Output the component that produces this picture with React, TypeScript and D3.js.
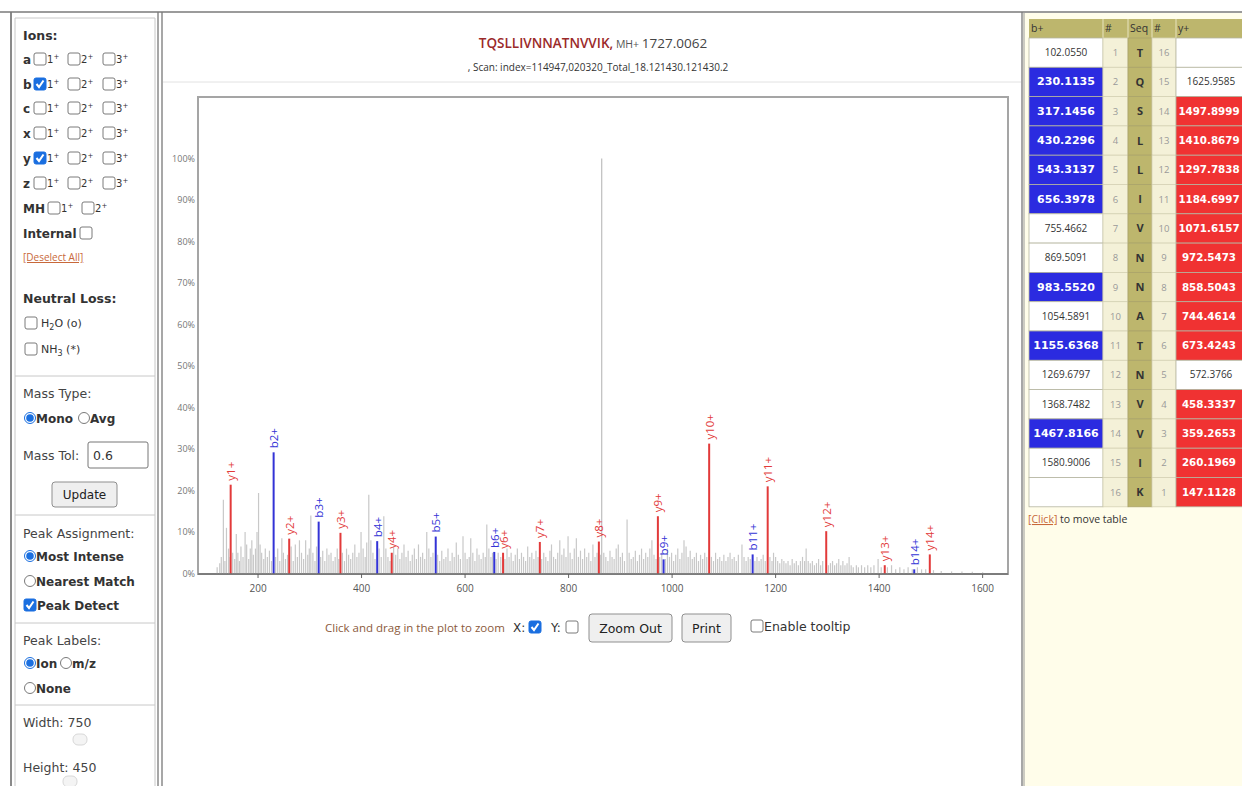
import React from "react";
import * as d3 from "d3";

// ---------- DATA ----------
const peptide = "TQSLLIVNNATNVVIK";
const precursorMH = "1727.0062";
const scanText = ", Scan: index=114947,020320_Total_18.121430.121430.2";

const xTicks = [200, 400, 600, 800, 1000, 1200, 1400, 1600];
const yTicks = [0, 10, 20, 30, 40, 50, 60, 70, 80, 90, 100];

// matched b ions
const bLabels = ["b2+", "b3+", "b4+", "b5+", "b6+", "b9+", "b11+", "b14+"];
const bMz = [230.1135, 317.1456, 430.2296, 543.3137, 656.3978, 983.552, 1155.6368, 1467.8166];
const bInt = [29.2, 12.5, 7.8, 8.9, 5.2, 3.4, 4.6, 1.0];

// matched y ions
const yLabels = ["y1+", "y2+", "y3+", "y4+", "y6+", "y7+", "y8+", "y9+", "y10+", "y11+", "y12+", "y13+", "y14+"];
const yMz = [147.1128, 260.1969, 359.2653, 458.3337, 673.4243, 744.4614, 858.5043, 972.5473, 1071.6157, 1184.6997, 1297.7838, 1410.8679, 1497.8999];
const yInt = [21.4, 8.4, 9.8, 5.0, 5.0, 7.6, 7.7, 13.8, 31.3, 21.0, 10.2, 2.0, 4.6];

// precursor (base) peak
const precursorPeak: [number, number] = [864.0, 100];

// unassigned peaks [m/z, %]
const noisePeaks: [number, number][] = [
  [121, 1.5], [126, 2.5], [129, 4], [133, 17.8], [136, 3], [139, 11], [143, 6], [146, 4], [151, 5], [155, 3.5],
  [158, 9.5], [161, 5], [164, 3], [167, 6.5], [171, 4], [175, 10], [178, 7], [182, 3.5], [185, 6], [188, 8],
  [191, 4.5], [195, 6], [198, 10], [201, 19.4], [204, 7], [207, 5], [211, 3.5], [214, 6], [218, 4], [222, 5.5],
  [226, 3], [234, 4], [238, 6], [242, 3], [246, 8.5], [249, 5], [253, 3.5], [257, 4.5], [264, 6.5], [268, 3],
  [272, 7], [276, 4], [280, 8], [284, 5], [288, 3.5], [292, 8], [296, 4.5], [299, 6], [302, 14], [306, 5],
  [310, 3], [313, 6.5], [321, 4], [325, 5.5], [329, 3], [333, 6], [337, 4.5], [341, 5], [345, 3], [349, 4],
  [353, 6], [356, 3.5], [363, 5], [367, 3], [371, 6], [375, 4.5], [379, 3.5], [383, 5], [387, 7], [391, 4],
  [395, 5], [399, 10], [403, 6], [407, 4], [410, 7.5], [414, 19], [418, 8], [422, 5], [426, 3.5], [434, 6],
  [438, 4], [443, 13.8], [447, 6], [451, 4], [455, 3], [462, 6.5], [466, 4.5], [470, 6], [474, 3.5], [478, 5],
  [482, 7], [486, 4], [490, 5.5], [494, 3], [498, 4.5], [502, 6], [506, 3.5], [510, 7], [514, 4], [518, 5],
  [522, 3.5], [526, 10], [530, 6], [534, 4], [538, 5], [547, 4.5], [551, 3], [555, 5.5], [559, 3.5], [563, 4],
  [567, 6], [571, 3], [575, 5], [579, 4], [583, 7.5], [587, 4.5], [591, 3.5], [596, 9], [600, 5], [604, 3.5],
  [608, 4], [611, 8.5], [615, 5], [619, 3], [623, 6], [627, 4.5], [631, 3.5], [635, 5], [639, 4], [642, 11.8],
  [646, 6], [650, 4], [653, 5], [660, 3.5], [664, 5], [669, 4], [677, 3.5], [681, 6], [685, 4], [689, 5],
  [693, 3], [697, 4.5], [701, 6], [705, 3.5], [709, 5], [713, 4], [717, 3], [721, 6.5], [725, 4], [729, 5],
  [733, 3.5], [737, 5.5], [741, 4], [748, 3.5], [752, 5], [756, 4], [760, 3], [764, 5.5], [767, 7], [771, 4],
  [775, 3.5], [779, 5], [783, 8], [787, 4.5], [791, 6], [795, 4], [799, 9], [803, 5], [807, 3.5], [811, 6],
  [815, 8.5], [819, 4], [823, 5.5], [827, 3.5], [831, 6], [835, 4], [839, 5], [843, 3], [847, 7], [851, 4],
  [855, 5], [862, 4.5], [868, 5], [872, 4], [876, 3], [880, 5.5], [884, 4], [888, 3.5], [892, 6], [896, 7],
  [900, 4], [904, 5], [908, 3], [913, 13], [917, 5], [921, 3.5], [925, 4], [929, 5.5], [933, 3], [937, 4.5],
  [941, 6], [945, 3.5], [949, 5], [953, 4], [957, 6], [961, 8], [965, 4.5], [969, 3.5], [976, 4], [980, 5],
  [987, 3.5], [991, 6], [995, 4], [999, 5], [1003, 3], [1007, 4.5], [1011, 6], [1015, 3.5], [1019, 5], [1023, 8],
  [1027, 6.5], [1031, 4], [1035, 5.5], [1039, 3.5], [1043, 4], [1047, 5], [1051, 3], [1055, 4.5], [1059, 3.5], [1063, 5],
  [1067, 4], [1076, 4], [1080, 3], [1084, 5], [1088, 3.5], [1092, 4], [1096, 3], [1100, 4.5], [1104, 3], [1108, 4],
  [1112, 5], [1116, 3.5], [1120, 4], [1124, 3], [1128, 4.5], [1135, 7], [1139, 4], [1143, 3], [1147, 4], [1151, 3.5],
  [1160, 3], [1164, 4], [1168, 3], [1172, 3.5], [1176, 4.5], [1180, 3], [1189, 4], [1193, 3], [1196, 5], [1200, 4],
  [1204, 3], [1208, 2.5], [1212, 3.5], [1216, 3], [1220, 2.5], [1224, 3], [1228, 2], [1232, 3.5], [1236, 2.5], [1240, 3],
  [1244, 2], [1248, 3], [1252, 4], [1256, 3], [1259, 6], [1263, 3], [1267, 2.5], [1271, 3], [1275, 2], [1279, 2.5],
  [1283, 3.5], [1287, 2], [1291, 3], [1302, 2], [1306, 2.5], [1310, 3], [1314, 2], [1318, 2.5], [1322, 3.5], [1326, 2],
  [1330, 3], [1334, 2], [1338, 2.5], [1342, 4], [1346, 2], [1350, 1.5], [1356, 2], [1360, 1.5], [1366, 2], [1372, 1.5],
  [1378, 2], [1384, 1.5], [1390, 2], [1398, 3.5], [1404, 1.5], [1416, 1.5], [1424, 2], [1432, 1], [1440, 1.5], [1448, 1],
  [1456, 1.5], [1464, 1], [1474, 1.5], [1482, 1], [1490, 1], [1505, 0.8], [1520, 0.6], [1540, 0.5], [1560, 0.5], [1580, 0.4],
  [1600, 0.3],
];

// fragment table
const bTable = ["102.0550", "230.1135", "317.1456", "430.2296", "543.3137", "656.3978", "755.4662", "869.5091", "983.5520", "1054.5891", "1155.6368", "1269.6797", "1368.7482", "1467.8166", "1580.9006", ""];
const yTable = ["", "1625.9585", "1497.8999", "1410.8679", "1297.7838", "1184.6997", "1071.6157", "972.5473", "858.5043", "744.4614", "673.4243", "572.3766", "458.3337", "359.2653", "260.1969", "147.1128"];
const bMatchedRows = [2, 3, 4, 5, 6, 9, 11, 14];
const yMatchedFromN = [14, 13, 12, 11, 10, 9, 8, 7, 6, 4, 3, 2, 1];

// ---------- STYLE ----------
const RED = "#e23a3a";
const BLUE = "#3333d6";
const GRAY = "#c8c8c8";
const PANEL_FONT = "'DejaVu Sans', Verdana, sans-serif";
const SMALL_FONT = "'Open Sans', 'DejaVu Sans', sans-serif";

const x = d3.scaleLinear().domain([84, 1649]).range([198, 1008]);
const y = d3.scaleLinear().domain([0, 100]).range([573.5, 158.5]);

function CheckBox({ x0, cy, checked = false, s = 12 }: { x0: number; cy: number; checked?: boolean; s?: number }) {
  return (
    <g>
      <rect x={x0} y={cy - s / 2} width={s} height={s} rx={2} fill={checked ? "#1a6fe0" : "#fff"} stroke={checked ? "#1a6fe0" : "#7a7a7a"} strokeWidth={1} />
      {checked && (
        <path d={`M${x0 + 2.5},${cy} L${x0 + 5},${cy + 3} L${x0 + 9.5},${cy - 3.5}`} fill="none" stroke="#fff" strokeWidth={2} />
      )}
    </g>
  );
}

function Radio({ cx, cy, checked = false }: { cx: number; cy: number; checked?: boolean }) {
  return (
    <g>
      <circle cx={cx} cy={cy} r={5.5} fill="#fff" stroke={checked ? "#1a6fe0" : "#7a7a7a"} strokeWidth={1} />
      {checked && <circle cx={cx} cy={cy} r={3.8} fill="#1a6fe0" />}
    </g>
  );
}

function Charge({ x0, cy, n }: { x0: number; cy: number; n: number }) {
  return (
    <text x={x0} y={cy + 4} fontSize={10} fill="#333" fontFamily={PANEL_FONT}>
      {n}
      <tspan fontSize={7} dy={-4}>+</tspan>
    </text>
  );
}

function Button({ x0, y0, w, h, label, fs = 12 }: { x0: number; y0: number; w: number; h: number; label: string; fs?: number }) {
  return (
    <g>
      <rect x={x0} y={y0} width={w} height={h} rx={3} fill="#efefef" stroke="#8f8f8f" />
      <text x={x0 + w / 2} y={y0 + h / 2 + 4.5} textAnchor="middle" fontSize={fs} fill="#222" fontFamily={PANEL_FONT}>{label}</text>
    </g>
  );
}

function LeftPanel() {
  const ionRows = ["a", "b", "c", "x", "y", "z"];
  const rowY = [59, 84, 108, 133, 158, 183];
  const checkedRows = ["b", "y"];
  const T = (props: any) => <text fontFamily={PANEL_FONT} fill="#333" fontSize={12.5} {...props} />;
  return (
    <g>
      <line x1={11} y1={12} x2={11} y2={786} stroke="#8a8a8a" strokeWidth={2} />
      <line x1={15} y1={18} x2={15} y2={786} stroke="#c8c8c8" />
      <line x1={155} y1={18} x2={155} y2={786} stroke="#c8c8c8" />
      <line x1={158} y1={12} x2={158} y2={786} stroke="#8a8a8a" strokeWidth={1.5} />
      <line x1={15} y1={18} x2={155} y2={18} stroke="#c8c8c8" />
      <T x={23} y={40} fontWeight="bold" fontSize={12.5}>Ions:</T>
      {ionRows.map((r, i) => (
        <g key={r}>
          <T x={23} y={rowY[i] + 4.5} fontWeight="bold" fontSize={12}>{r}</T>
          <CheckBox x0={34} cy={rowY[i]} checked={checkedRows.includes(r)} />
          <Charge x0={47} cy={rowY[i]} n={1} />
          <CheckBox x0={68} cy={rowY[i]} />
          <Charge x0={81} cy={rowY[i]} n={2} />
          <CheckBox x0={103} cy={rowY[i]} />
          <Charge x0={116} cy={rowY[i]} n={3} />
        </g>
      ))}
      <T x={23} y={212.5} fontWeight="bold" fontSize={12}>MH</T>
      <CheckBox x0={48} cy={208} />
      <Charge x0={61} cy={208} n={1} />
      <CheckBox x0={82} cy={208} />
      <Charge x0={95} cy={208} n={2} />
      <T x={23} y={237.5} fontWeight="bold" fontSize={12}>Internal</T>
      <CheckBox x0={80} cy={233} />
      <text x={23} y={261} fontSize={10} fill="#c8683a" textDecoration="underline" fontFamily={SMALL_FONT}>[Deselect All]</text>

      <T x={23} y={302.5} fontWeight="bold">Neutral Loss:</T>
      <CheckBox x0={25} cy={323} />
      <text x={41} y={327} fontSize={11} fill="#333" fontFamily={PANEL_FONT}>H<tspan fontSize={8} dy={3}>2</tspan><tspan dy={-3}>O (o)</tspan></text>
      <CheckBox x0={25} cy={349} />
      <text x={41} y={353} fontSize={11} fill="#333" fontFamily={PANEL_FONT}>NH<tspan fontSize={8} dy={3}>3</tspan><tspan dy={-3}> (*)</tspan></text>

      <line x1={15} y1={376} x2={155} y2={376} stroke="#c8c8c8" />
      <T x={23} y={397.5} fill="#444">Mass Type:</T>
      <Radio cx={30} cy={418} checked />
      <T x={36} y={422.5} fontWeight="bold" fontSize={12}>Mono</T>
      <Radio cx={84} cy={418} />
      <T x={90} y={422.5} fontWeight="bold" fontSize={12}>Avg</T>
      <T x={23} y={459.5} fill="#444">Mass Tol:</T>
      <rect x={88} y={442} width={60} height={26} fill="#fff" stroke="#777" rx={2} />
      <T x={93} y={459.5} fontSize={12.5}>0.6</T>
      <Button x0={52} y0={482} w={65} h={25} label="Update" />

      <line x1={15} y1={515} x2={155} y2={515} stroke="#c8c8c8" />
      <T x={23} y={537.5} fill="#444">Peak Assignment:</T>
      <Radio cx={30} cy={556} checked />
      <T x={36} y={560.5} fontWeight="bold" fontSize={12}>Most Intense</T>
      <Radio cx={30} cy={581} />
      <T x={36} y={585.5} fontWeight="bold" fontSize={12}>Nearest Match</T>
      <CheckBox x0={24} cy={605} checked />
      <T x={37} y={609.5} fontWeight="bold" fontSize={12}>Peak Detect</T>

      <line x1={15} y1={623} x2={155} y2={623} stroke="#c8c8c8" />
      <T x={23} y={644.5} fill="#444">Peak Labels:</T>
      <Radio cx={30} cy={663} checked />
      <T x={36} y={667.5} fontWeight="bold" fontSize={12}>Ion</T>
      <Radio cx={66} cy={663} />
      <T x={72} y={667.5} fontWeight="bold" fontSize={12}>m/z</T>
      <Radio cx={30} cy={688} />
      <T x={36} y={692.5} fontWeight="bold" fontSize={12}>None</T>

      <line x1={15} y1={705} x2={155} y2={705} stroke="#c8c8c8" />
      <T x={23} y={727} fill="#444">Width: 750</T>
      <rect x={73} y={734} width={14} height={11} rx={5} fill="#f4f4f4" stroke="#d8d8d8" />
      <T x={23} y={772} fill="#444">Height: 450</T>
      <rect x={63} y={776} width={14} height={11} rx={5} fill="#f4f4f4" stroke="#d8d8d8" />
    </g>
  );
}

function Spectrum() {
  const labelFs = 11.5;
  return (
    <g>
      <line x1={162} y1={12} x2={162} y2={786} stroke="#8a8a8a" strokeWidth={1.5} />
      <line x1={1022} y1={12} x2={1022} y2={786} stroke="#8a8a8a" strokeWidth={1.5} />
      <line x1={0} y1={12} x2={1242} y2={12} stroke="#7a7a7a" strokeWidth={1.5} />
      <text x={593} y={48} textAnchor="middle" fontFamily={SMALL_FONT} fontSize={13.5}>
        <tspan fill="#9b2a2a" fontWeight="600">{peptide},</tspan>
        <tspan fill="#555" fontSize={10.5}> MH+ </tspan>
        <tspan fill="#444">{precursorMH}</tspan>
      </text>
      <text x={598} y={71} textAnchor="middle" fontFamily={SMALL_FONT} fontSize={10} fill="#333">{scanText}</text>
      <line x1={163} y1={82} x2={1021} y2={82} stroke="#e2e2e2" />

      <rect x={198} y={97} width={810} height={477} fill="#fff" stroke="#a5a5a5" strokeWidth={2} />

      {yTicks.map((t) => (
        <text key={t} x={195} y={y(t) + 3} textAnchor="end" fontSize={9} fill="#777" fontFamily={SMALL_FONT}>{t}%</text>
      ))}
      {xTicks.map((t) => (
        <g key={t}>
          <line x1={x(t)} x2={x(t)} y1={574} y2={578} stroke="#666" />
          <text x={x(t)} y={592} textAnchor="middle" fontSize={10} fill="#555" fontFamily={SMALL_FONT}>{t}</text>
        </g>
      ))}

      {noisePeaks.map(([m, v], i) => (
        <line key={"n" + i} x1={x(m)} x2={x(m)} y1={y(0)} y2={y(v)} stroke={GRAY} strokeWidth={1.2} />
      ))}
      <line x1={x(precursorPeak[0])} x2={x(precursorPeak[0])} y1={y(0)} y2={y(precursorPeak[1])} stroke="#bdbdbd" strokeWidth={1.2} />

      {bMz.map((m, i) => (
        <g key={"b" + i}>
          <line x1={x(m)} x2={x(m)} y1={y(0)} y2={y(bInt[i])} stroke={BLUE} strokeWidth={2} />
          <text transform={`translate(${x(m)},${y(bInt[i]) - 4}) rotate(-90)`} fontSize={labelFs} fill={BLUE} dominantBaseline="central" fontFamily={SMALL_FONT}>{bLabels[i]}</text>
        </g>
      ))}
      {yMz.map((m, i) => (
        <g key={"y" + i}>
          <line x1={x(m)} x2={x(m)} y1={y(0)} y2={y(yInt[i])} stroke={RED} strokeWidth={2} />
          <text transform={`translate(${x(m)},${y(yInt[i]) - 4}) rotate(-90)`} fontSize={labelFs} fill={RED} dominantBaseline="central" fontFamily={SMALL_FONT}>{yLabels[i]}</text>
        </g>
      ))}
      <line x1={198} x2={1008} y1={574} y2={574} stroke="#555" strokeWidth={1} />

      <text x={325} y={632} fontSize={11.5} fill="#8b5a3c" fontFamily={SMALL_FONT}>Click and drag in the plot to zoom</text>
      <text x={513} y={632} fontSize={12} fill="#333" fontFamily={PANEL_FONT}>X:</text>
      <CheckBox x0={529} cy={627} checked />
      <text x={551} y={632} fontSize={12} fill="#333" fontFamily={PANEL_FONT}>Y:</text>
      <CheckBox x0={566} cy={627} />
      <Button x0={589} y0={614} w={83} h={28} label="Zoom Out" fs={12.5} />
      <Button x0={682} y0={614} w={49} h={28} label="Print" fs={12.5} />
      <CheckBox x0={751} cy={626} />
      <text x={764} y={631} fontSize={12.5} fill="#333" fontFamily={PANEL_FONT}>Enable tooltip</text>
    </g>
  );
}

function FragmentTable() {
  const cols = [1029, 1103, 1128, 1152, 1176, 1252];
  const top = 19;
  const headH = 19;
  const rowH = 29.3;
  const residues = peptide.split("");
  const n = residues.length;
  const tf = SMALL_FONT;
  return (
    <g>
      <rect x={1023} y={13} width={219} height={773} fill="#fffdea" />
      <line x1={1024} y1={12} x2={1024} y2={786} stroke="#9a9a9a" />
      <rect x={cols[0]} y={top} width={cols[5] - cols[0]} height={headH} fill="#bdb66d" />
      {[["b+", 0], ["#", 1], ["Seq", 2], ["#", 3], ["y+", 4]].map(([t, c]) => (
        <text key={String(t) + c} x={cols[c as number] + 2} y={top + 13} fontSize={10.5} fill="#333" fontFamily={tf}>{t}</text>
      ))}
      {cols.slice(1, 5).map((c) => (
        <line key={c} x1={c} x2={c} y1={top} y2={top + headH} stroke="#e8e4c0" />
      ))}
      {residues.map((r, i) => {
        const rowTop = top + headH + i * rowH;
        const cy = rowTop + rowH / 2;
        const num = i + 1;
        const bM = bMatchedRows.includes(num);
        const yNum = n - i;
        const yM = yMatchedFromN.includes(yNum);
        return (
          <g key={i}>
            <rect x={cols[0]} y={rowTop} width={cols[1] - cols[0]} height={rowH} fill={bM ? "#2b2be0" : "#fff"} stroke="#b5b5a0" strokeWidth={0.8} />
            <rect x={cols[1]} y={rowTop} width={cols[2] - cols[1]} height={rowH} fill="#f4f1d8" stroke="#d5d2b5" strokeWidth={0.8} />
            <rect x={cols[2]} y={rowTop} width={cols[3] - cols[2]} height={rowH} fill="#bdb66d" stroke="#aaa36a" strokeWidth={0.8} />
            <rect x={cols[3]} y={rowTop} width={cols[4] - cols[3]} height={rowH} fill="#f4f1d8" stroke="#d5d2b5" strokeWidth={0.8} />
            <rect x={cols[4]} y={rowTop} width={cols[5] - cols[4]} height={rowH} fill={yM ? "#f03232" : "#fff"} stroke="#b5b5a0" strokeWidth={0.8} />
            <text x={(cols[0] + cols[1]) / 2} y={cy + 3.5} textAnchor="middle" fontSize={bM ? 11 : 10} fill={bM ? "#fff" : "#333"} fontWeight={bM ? "bold" : "normal"} fontFamily={bM ? PANEL_FONT : tf}>{bTable[i]}</text>
            <text x={(cols[1] + cols[2]) / 2} y={cy + 3.5} textAnchor="middle" fontSize={9.5} fill="#999" fontFamily={tf}>{num}</text>
            <text x={(cols[2] + cols[3]) / 2} y={cy + 4} textAnchor="middle" fontSize={11} fill="#333" fontWeight="bold" fontFamily={tf}>{r}</text>
            <text x={(cols[3] + cols[4]) / 2} y={cy + 3.5} textAnchor="middle" fontSize={9.5} fill="#999" fontFamily={tf}>{yNum}</text>
            <text x={yM ? 1209 : 1211} y={cy + 3.5} textAnchor="middle" fontSize={yM ? 10.3 : 10} fill={yM ? "#fff" : "#333"} fontWeight={yM ? "bold" : "normal"} fontFamily={yM ? PANEL_FONT : tf}>{yTable[i]}</text>
          </g>
        );
      })}
      <text x={1028} y={523} fontSize={10.5} fill="#333" fontFamily={tf}>
        <tspan fill="#c8683a" textDecoration="underline">[Click]</tspan> to move table
      </text>
    </g>
  );
}

export default function App() {
  return (
    <svg width={1242} height={786} style={{ position: "absolute", left: 0, top: 0, background: "#fff" }} xmlns="http://www.w3.org/2000/svg">
      <rect x={0} y={0} width={1242} height={786} fill="#fff" />
      <LeftPanel />
      <Spectrum />
      <FragmentTable />
    </svg>
  );
}
